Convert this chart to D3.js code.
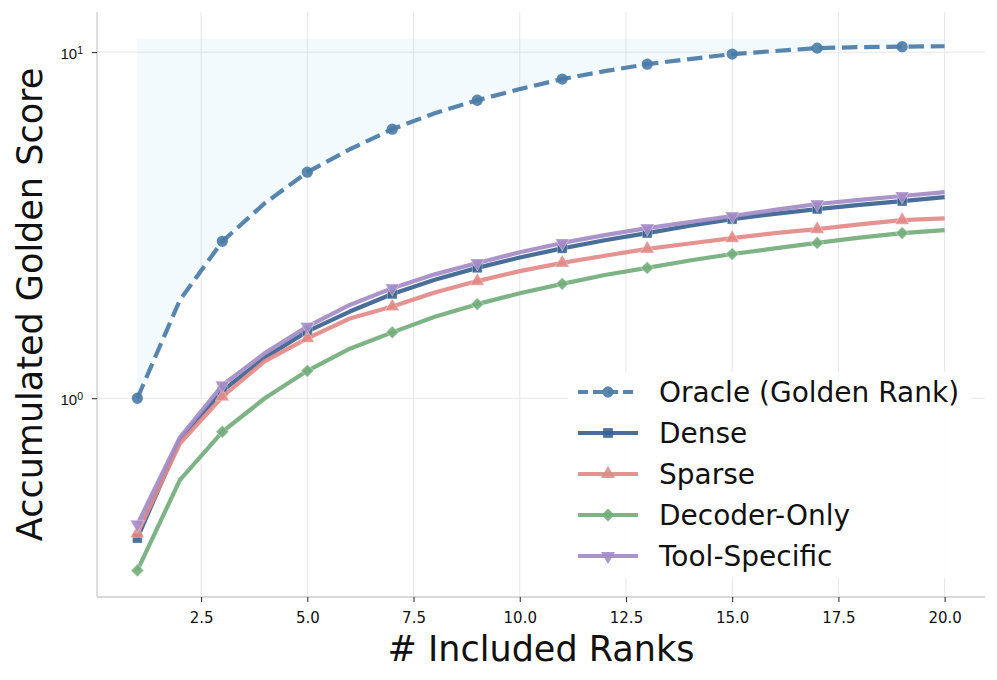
<!DOCTYPE html>
<html>
<head>
<meta charset="utf-8">
<script src="https://cdn.jsdelivr.net/npm/d3@7"></script>
<style>
  body { margin: 0; background: #fff; }
  svg { font-family: "DejaVu Sans", sans-serif; }
</style>
</head>
<body>
<div class="container"></div>
<script>
(function(d3) {
  "use strict";

  var ranks = [1, 2, 3, 4, 5, 6, 7, 8, 9, 10, 11, 12, 13, 14, 15, 16, 17, 18, 19, 20];

  var oracle = [1.0, 1.92, 2.84, 3.66, 4.50, 5.24, 5.99, 6.66, 7.26, 7.82,
                8.36, 8.81, 9.23, 9.55, 9.87, 10.07, 10.27, 10.34, 10.37, 10.4];
  var dense = [0.394, 0.757, 1.05, 1.31, 1.56, 1.78, 2.0, 2.2, 2.38, 2.55,
               2.71, 2.86, 3.0, 3.15, 3.29, 3.41, 3.52, 3.62, 3.71, 3.81];
  var sparse = [0.407, 0.74, 1.01, 1.28, 1.49, 1.70, 1.84, 2.02, 2.18, 2.33,
                2.46, 2.58, 2.70, 2.80, 2.90, 3.0, 3.08, 3.18, 3.27, 3.31];
  var decoder = [0.318, 0.58, 0.80, 1.0, 1.20, 1.39, 1.55, 1.72, 1.87, 2.01,
                 2.14, 2.27, 2.38, 2.50, 2.61, 2.71, 2.81, 2.91, 3.0, 3.06];
  var tool = [0.432, 0.77, 1.09, 1.35, 1.61, 1.86, 2.08, 2.28, 2.46, 2.64,
              2.81, 2.96, 3.10, 3.23, 3.36, 3.50, 3.64, 3.74, 3.84, 3.94];

  var seriesNames = ["Oracle (Golden Rank)", "Dense", "Sparse", "Decoder-Only", "Tool-Specific"];
  var xTicks = [2.5, 5.0, 7.5, 10.0, 12.5, 15.0, 17.5, 20.0];
  var yTicks = [1, 10];

  var series = [
    { name: seriesNames[0], values: oracle, color: "#4a7ba7", symbol: d3.symbolCircle, size: 100, dash: "15.5,6.7", rot: 0 },
    { name: seriesNames[1], values: dense, color: "#386290", symbol: d3.symbolSquare, size: 95, dash: null, rot: 0 },
    { name: seriesNames[2], values: sparse, color: "#e28a87", symbol: d3.symbolTriangle, size: 85, dash: null, rot: 0 },
    { name: seriesNames[3], values: decoder, color: "#73ad7b", symbol: d3.symbolSquare, size: 82, dash: null, rot: 45 },
    { name: seriesNames[4], values: tool, color: "#a48bc5", symbol: d3.symbolTriangle, size: 85, dash: null, rot: 180 }
  ];

  var width = 997, height = 680;
  var left = 97, right = 985, top = 12, bottom = 597;

  var fillTop = d3.max(oracle) * 1.05;

  var x = d3.scaleLinear().domain([0.05, 20.95]).range([left, right]);
  var y = d3.scaleLog().domain([0.2665, 13.06]).range([bottom, top]);

  var svg = d3.select(".container").append("svg")
      .attr("width", width)
      .attr("height", height);

  // grid
  var grid = svg.append("g").attr("class", "grid");
  grid.selectAll(".vgrid")
      .data(xTicks)
    .enter().append("line")
      .attr("x1", function(d) { return x(d); })
      .attr("x2", function(d) { return x(d); })
      .attr("y1", top)
      .attr("y2", bottom)
      .attr("stroke", "#e6e6e6")
      .attr("stroke-width", 1);
  grid.selectAll(".hgrid")
      .data(yTicks)
    .enter().append("line")
      .attr("x1", left)
      .attr("x2", right)
      .attr("y1", function(d) { return y(d); })
      .attr("y2", function(d) { return y(d); })
      .attr("stroke", "#e6e6e6")
      .attr("stroke-width", 1);

  // shaded gap above the oracle curve
  var area = d3.area()
      .x(function(d, i) { return x(ranks[i]); })
      .y0(function(d) { return y(d); })
      .y1(function() { return y(fillTop); });

  svg.append("path")
      .datum(oracle)
      .attr("d", area)
      .attr("fill", "#87ceeb")
      .attr("fill-opacity", 0.11);

  // spines
  svg.append("line")
      .attr("x1", left).attr("x2", left)
      .attr("y1", top).attr("y2", bottom)
      .attr("stroke", "#cccccc").attr("stroke-width", 1.3);
  svg.append("line")
      .attr("x1", left).attr("x2", right)
      .attr("y1", bottom).attr("y2", bottom)
      .attr("stroke", "#cccccc").attr("stroke-width", 1.3);

  // x axis
  var xAxis = d3.axisBottom(x)
      .tickValues(xTicks)
      .tickSize(5)
      .tickPadding(10)
      .tickFormat(d3.format(".1f"));

  var gx = svg.append("g")
      .attr("transform", "translate(0," + bottom + ")")
      .call(xAxis);
  gx.select(".domain").remove();
  gx.selectAll(".tick line").attr("stroke", "#222").attr("stroke-width", 1);
  gx.selectAll(".tick text")
      .attr("fill", "#111")
      .style("font-size", "15px")
      .style("font-family", "DejaVu Sans");

  // y axis
  var yAxis = d3.axisLeft(y)
      .tickValues(yTicks)
      .tickSize(5)
      .tickFormat("");

  var gy = svg.append("g")
      .attr("transform", "translate(" + left + ",0)")
      .call(yAxis);
  gy.select(".domain").remove();
  gy.selectAll(".tick line").attr("stroke", "#222").attr("stroke-width", 1);
  gy.selectAll(".tick text").remove();
  gy.selectAll(".tick").append("text")
      .attr("x", -14)
      .attr("dy", "0.4em")
      .attr("text-anchor", "end")
      .attr("fill", "#111")
      .style("font-size", "15px")
      .each(function(d) {
        var t = d3.select(this);
        t.append("tspan").text("10");
        t.append("tspan")
            .attr("dy", "-0.45em")
            .style("font-size", "10.5px")
            .text(String(Math.round(Math.log10(d))));
      });

  // axis labels
  svg.append("text")
      .attr("x", (left + right) / 2)
      .attr("y", 661)
      .attr("text-anchor", "middle")
      .attr("fill", "#111")
      .style("font-size", "35px")
      .text("# Included Ranks");

  svg.append("text")
      .attr("transform", "translate(42," + (top + bottom) / 2 + ") rotate(-90)")
      .attr("text-anchor", "middle")
      .attr("fill", "#111")
      .style("font-size", "35px")
      .text("Accumulated Golden Score");

  // series
  var line = d3.line()
      .x(function(d, i) { return x(ranks[i]); })
      .y(function(d) { return y(d); });

  var groups = svg.selectAll(".series")
      .data(series)
    .enter().append("g")
      .attr("class", "series");

  groups.append("path")
      .attr("d", function(d) { return line(d.values); })
      .attr("fill", "none")
      .attr("stroke", function(d) { return d.color; })
      .attr("stroke-width", 4.2)
      .attr("stroke-opacity", 0.92)
      .attr("stroke-dasharray", function(d) { return d.dash; })
      .attr("stroke-linejoin", "round");

  groups.each(function(s) {
    d3.select(this).selectAll(".pt")
        .data(s.values.filter(function(v, i) { return i % 2 === 0; }))
      .enter().append("path")
        .attr("class", "pt")
        .attr("transform", function(d, j) {
          return "translate(" + x(ranks[j * 2]) + "," + y(d) + ") rotate(" + s.rot + ")";
        })
        .attr("d", d3.symbol().type(s.symbol).size(s.size))
        .attr("fill", s.color)
        .attr("fill-opacity", 0.9)
        .attr("stroke", s.dash ? "none" : "#ffffff")
        .attr("stroke-opacity", 0.35)
        .attr("stroke-width", 1);
  });

  // legend
  var legend = svg.append("g").attr("class", "legend");
  legend.append("rect")
      .attr("x", 568).attr("y", 372)
      .attr("width", 403).attr("height", 206)
      .attr("rx", 4)
      .attr("fill", "#fff")
      .attr("fill-opacity", 0.92);

  var items = legend.selectAll(".item")
      .data(series)
    .enter().append("g")
      .attr("class", "item")
      .attr("transform", function(d, i) { return "translate(578," + (392 + i * 41) + ")"; });

  items.append("line")
      .attr("x1", 0).attr("x2", 60)
      .attr("stroke", function(d) { return d.color; })
      .attr("stroke-width", 4.2)
      .attr("stroke-opacity", 0.92)
      .attr("stroke-dasharray", function(d) { return d.dash ? "10,5" : null; });

  items.append("path")
      .attr("transform", function(d) { return "translate(30,0) rotate(" + d.rot + ")"; })
      .attr("d", function(d) { return d3.symbol().type(d.symbol).size(d.size)(); })
      .attr("fill", function(d) { return d.color; })
      .attr("fill-opacity", 0.9);

  items.append("text")
      .attr("x", 81)
      .attr("dy", "0.36em")
      .attr("fill", "#111")
      .style("font-size", "28px")
      .text(function(d) { return d.name; });

}(d3));
</script>
</body>
</html>
